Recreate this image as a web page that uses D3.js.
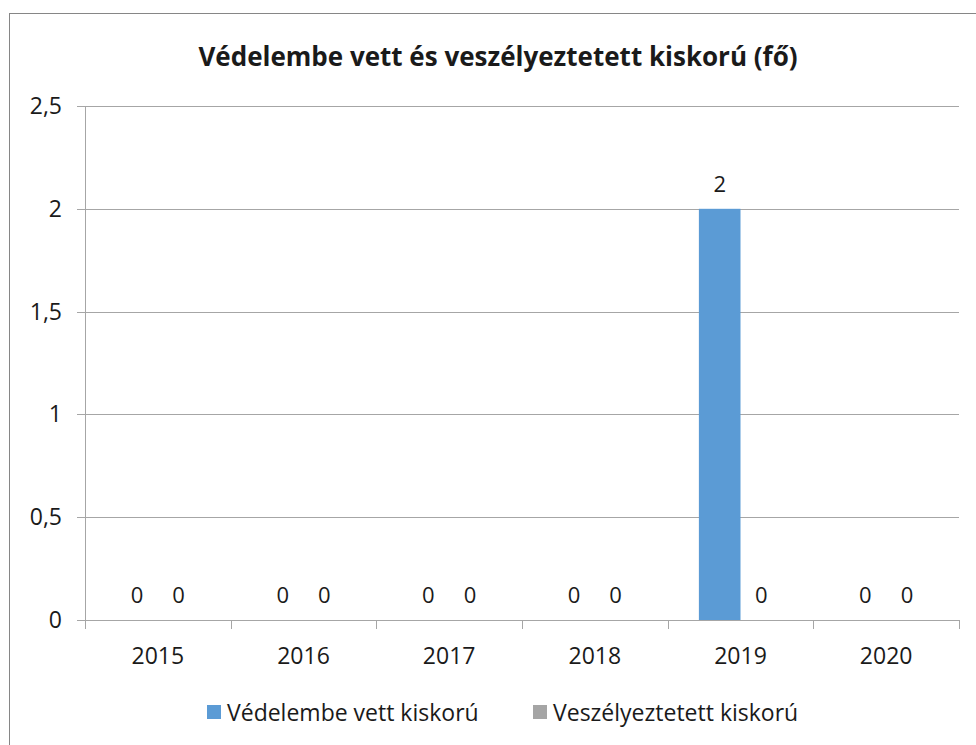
<!DOCTYPE html>
<html>
<head>
<meta charset="utf-8">
<script src="https://cdn.jsdelivr.net/npm/d3@7"></script>
<style>
  body { margin: 0; background: #fff; }
  text { font-family: "Open Sans", sans-serif; fill: #1a1a1a; }
</style>
</head>
<body>
<svg width="976" height="745"></svg>
<script>
var years = ["2015", "2016", "2017", "2018", "2019", "2020"];
var seriesNames = ["Védelembe vett kiskorú", "Veszélyeztetett kiskorú"];
var vedelembe = [0, 0, 0, 0, 2, 0];
var veszelyeztetett = [0, 0, 0, 0, 0, 0];
var yTicks = [0, 0.5, 1, 1.5, 2, 2.5];
var colors = ["#5b9bd5", "#a5a5a5"];

var svg = d3.select("svg"),
    margin = { top: 106, right: 17, bottom: 125, left: 85 },
    width = +svg.attr("width") - margin.left - margin.right,
    height = +svg.attr("height") - margin.top - margin.bottom;

var hu = d3.formatLocale({ decimal: ",", thousands: " ", grouping: [3], currency: ["", " Ft"] });
var fmt = hu.format("~g");

// chart frame (cut at the right and bottom edge)
svg.append("rect")
    .attr("x", 9.5).attr("y", 13.5)
    .attr("width", 1000).attr("height", 1000)
    .attr("fill", "none")
    .attr("stroke", "#868686");

svg.append("text")
    .attr("x", 498).attr("y", 66)
    .attr("text-anchor", "middle")
    .style("font-weight", "bold")
    .style("font-size", "26px")
    .text("Védelembe vett és veszélyeztetett kiskorú (fő)");

var g = svg.append("g")
    .attr("transform", "translate(" + margin.left + "," + margin.top + ")");

var x = d3.scaleBand().domain(years).range([0, width]).padding(0);
var y = d3.scaleLinear().domain([0, 2.5]).range([height, 0]);

var barW = x.bandwidth() / 3.5;
var x1 = d3.scaleBand().domain([0, 1])
    .range([barW * 0.75, barW * 2.75]).padding(0);

// gridlines
g.selectAll(".grid").data(yTicks).enter().append("line")
    .attr("x1", -8).attr("x2", width)
    .attr("y1", function (d) { return Math.round(y(d)) + 0.5; })
    .attr("y2", function (d) { return Math.round(y(d)) + 0.5; })
    .attr("stroke", "#a6a6a6");

// y axis line
g.append("line")
    .attr("x1", 0.5).attr("x2", 0.5)
    .attr("y1", 0).attr("y2", height)
    .attr("stroke", "#a6a6a6");

g.selectAll(".ylab").data(yTicks).enter().append("text")
    .attr("x", -23)
    .attr("y", function (d) { return y(d) + 8; })
    .attr("text-anchor", "end")
    .style("font-size", "23px")
    .text(function (d) { return fmt(d); });

// x axis ticks at category edges
var edges = years.map(function (d) { return x(d); }).concat([width]);
g.selectAll(".xtick").data(edges).enter().append("line")
    .attr("x1", function (d) { return Math.round(d) + 0.5; })
    .attr("x2", function (d) { return Math.round(d) + 0.5; })
    .attr("y1", height).attr("y2", height + 9)
    .attr("stroke", "#a6a6a6");

g.selectAll(".xlab").data(years).enter().append("text")
    .attr("x", function (d) { return x(d) + x.bandwidth() / 2; })
    .attr("y", height + 44)
    .attr("text-anchor", "middle")
    .style("font-size", "23px")
    .text(function (d) { return d; });

// bars
var rows = years.map(function (yr, i) {
    return { year: yr, values: [vedelembe[i], veszelyeztetett[i]] };
});

var grp = g.selectAll(".yr").data(rows).enter().append("g")
    .attr("transform", function (d) { return "translate(" + x(d.year) + ",0)"; });

grp.selectAll("rect").data(function (d) { return d.values; }).enter().append("rect")
    .attr("x", function (d, i) { return x1(i); })
    .attr("width", x1.bandwidth())
    .attr("y", function (d) { return y(d); })
    .attr("height", function (d) { return height - y(d); })
    .attr("fill", function (d, i) { return colors[i]; });

grp.selectAll(".lab").data(function (d) { return d.values; }).enter().append("text")
    .attr("x", function (d, i) { return x1(i) + x1.bandwidth() / 2; })
    .attr("y", function (d) { return y(d) - 17; })
    .attr("text-anchor", "middle")
    .style("font-size", "22px")
    .text(function (d) { return fmt(d); });

// legend
var legX = [207, 533];
var leg = svg.selectAll(".leg").data(seriesNames).enter().append("g")
    .attr("transform", function (d, i) { return "translate(" + legX[i] + ",705)"; });
leg.append("rect").attr("width", 14).attr("height", 14)
    .attr("fill", function (d, i) { return colors[i]; });
leg.append("text").attr("x", 20).attr("y", 16)
    .style("font-size", "23px")
    .text(function (d) { return d; });
</script>
</body>
</html>
